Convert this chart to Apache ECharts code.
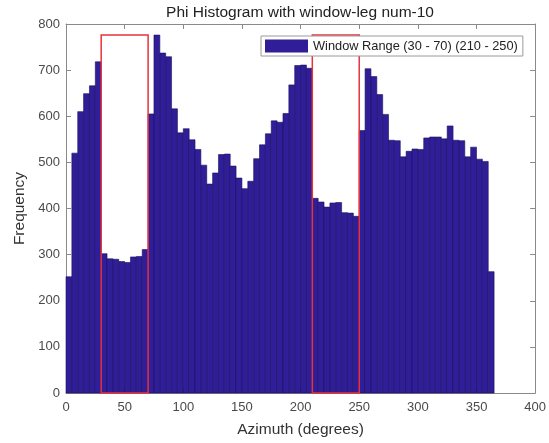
<!DOCTYPE html>
<html>
<head>
<meta charset="utf-8">
<script src="https://cdn.jsdelivr.net/npm/echarts@6/dist/echarts.min.js"></script>
<style>html,body{margin:0;padding:0;background:#fff}#c{width:549px;height:443px}</style>
</head>
<body>
<div id="c"></div>
<script>
// ---- data ----
var titleText = 'Phi Histogram with window-leg num-10';
var seriesName = 'Window Range (30 - 70) (210 - 250)';
var xLabel = 'Azimuth (degrees)';
var yLabel = 'Frequency';
var binWidth = 5;
var counts = [
  252, 520, 610, 649, 666, 718, 302, 291, 290, 285,
  283, 295, 296, 311, 605, 776, 737, 729, 616, 564,
  573, 549, 528, 494, 453, 477, 517, 518, 492, 466,
  443, 459, 508, 538, 562, 590, 587, 606, 668, 710,
  711, 704, 422, 414, 403, 412, 413, 391, 390, 383,
  569, 703, 686, 647, 604, 548, 547, 512, 524, 529,
  528, 553, 555, 555, 551, 579, 548, 547, 512, 533,
  507, 502, 263
];
var windowStarts = [30, 210];
var windowEnds = [70, 250];
var windowTop = 776;
var xTicks = [0, 400, 50];   // min, max, interval
var yTicks = [0, 800, 100];

// ---- build ----
var barData = counts.map(function (c, i) { return [i * binWidth, (i + 1) * binWidth, c]; });
var winData = windowStarts.map(function (s, i) { return [s, windowEnds[i], windowTop]; });

function rectItem(params, api) {
  var p0 = api.coord([api.value(0), 0]);
  var p1 = api.coord([api.value(1), api.value(2)]);
  return { x: p0[0], y: p1[1], width: p1[0] - p0[0], height: p0[1] - p1[1] };
}

var font = 'Liberation Sans, Arial, Helvetica, sans-serif';
var axisCol = '#8a8a8a';
var labelCol = '#4a4a4a';

function xAx(top) {
  return {
    type: 'value', position: top ? 'top' : 'bottom',
    min: xTicks[0], max: xTicks[1], interval: xTicks[2],
    axisLine: { show: true, onZero: false, lineStyle: { color: axisCol, width: 1 } },
    axisTick: { show: true, inside: true, length: 5, lineStyle: { color: axisCol } },
    axisLabel: { show: !top, margin: 8, color: labelCol, fontSize: 13, fontFamily: font },
    splitLine: { show: false },
    name: top ? '' : xLabel, nameLocation: 'middle', nameGap: 29,
    nameTextStyle: { color: '#333', fontSize: 15.5, fontFamily: font }
  };
}
function yAx(right) {
  return {
    type: 'value', position: right ? 'right' : 'left',
    min: yTicks[0], max: yTicks[1], interval: yTicks[2],
    axisLine: { show: true, onZero: false, lineStyle: { color: axisCol, width: 1 } },
    axisTick: { show: true, inside: true, length: 5, lineStyle: { color: axisCol } },
    axisLabel: { show: !right, margin: 6, color: labelCol, fontSize: 13, fontFamily: font },
    splitLine: { show: false },
    name: right ? '' : yLabel, nameLocation: 'middle', nameGap: 31,
    nameTextStyle: { color: '#333', fontSize: 15.5, fontFamily: font }
  };
}

var chart = echarts.init(document.getElementById('c'), null, { renderer: 'canvas' });
chart.setOption({
  animation: false,
  backgroundColor: '#fff',
  title: {
    text: titleText, left: 300, top: 5, padding: 0, textAlign: 'center',
    textStyle: { fontSize: 15.5, fontWeight: 'normal', color: '#222', fontFamily: font }
  },
  grid: { left: 66, right: 13, top: 24, bottom: 49 },
  legend: {
    data: [{ name: seriesName, icon: 'rect' }],
    left: 261, top: 36,
    itemWidth: 43, itemHeight: 13, itemGap: 5,
    padding: [2, 5, 2, 4],
    backgroundColor: '#fff', borderColor: '#9a9a9a', borderWidth: 1, borderRadius: 0,
    textStyle: { fontSize: 12.8, lineHeight: 16, color: '#222', fontFamily: font }
  },
  xAxis: [xAx(false), xAx(true)],
  yAxis: [yAx(false), yAx(true)],
  series: [
    {
      name: seriesName, type: 'custom', xAxisIndex: 0, yAxisIndex: 0,
      encode: { x: [0, 1], y: 2 },
      itemStyle: { color: '#301e98' },
      renderItem: function (params, api) {
        return {
          type: 'rect', shape: rectItem(params, api),
          style: { fill: '#301e98', stroke: '#1a0f5e', lineWidth: 0.6 }
        };
      },
      data: barData, z: 2
    },
    {
      name: 'windows', type: 'custom', xAxisIndex: 0, yAxisIndex: 0,
      encode: { x: [0, 1], y: 2 },
      renderItem: function (params, api) {
        return {
          type: 'rect', shape: rectItem(params, api),
          style: { fill: 'none', stroke: '#e8333c', lineWidth: 1.5 }
        };
      },
      data: winData, z: 3
    }
  ]
});
</script>
</body>
</html>
